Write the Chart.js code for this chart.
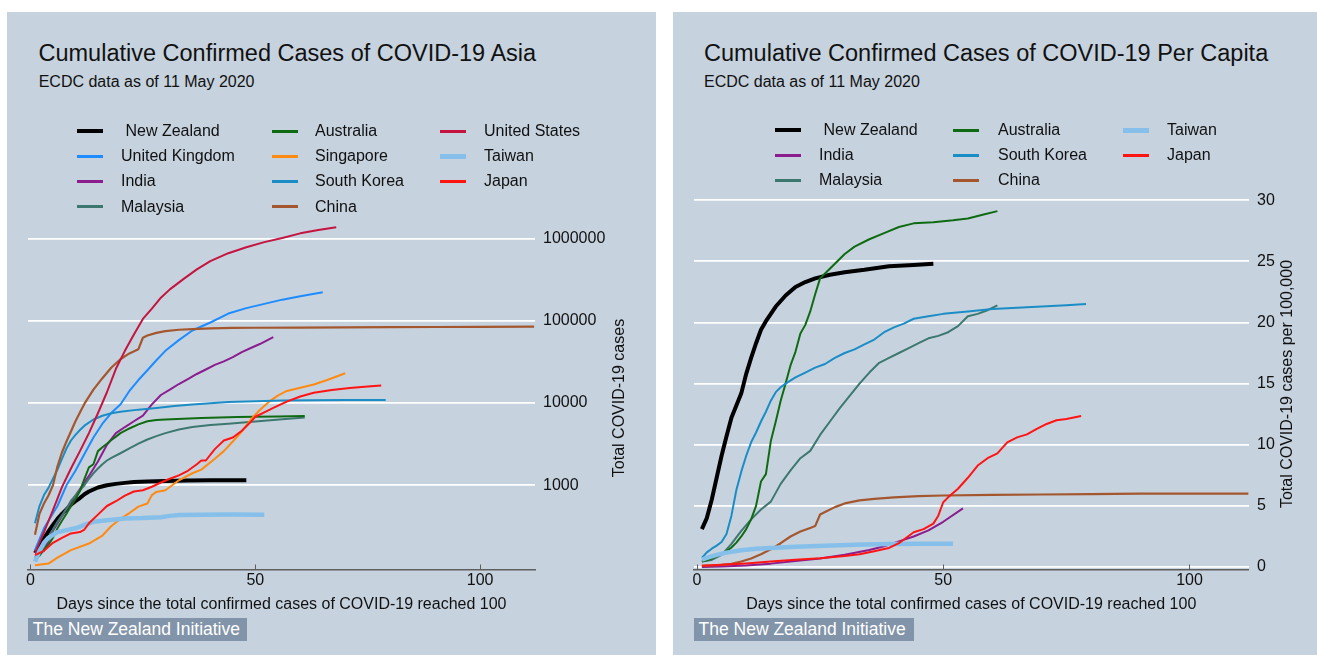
<!DOCTYPE html>
<html><head><meta charset="utf-8">
<script src="https://cdn.jsdelivr.net/npm/chart.js@4.4.1/dist/chart.umd.min.js"></script>
<style>
html,body{margin:0;padding:0;background:#fff;width:1317px;height:655px;overflow:hidden;font-family:"Liberation Sans",Arial,Helvetica,sans-serif;color:#111}
.panel{position:absolute;background:#c6d2de;overflow:hidden}
.title{position:absolute;font-size:23.5px;line-height:23.5px;white-space:nowrap}
.sub{position:absolute;font-size:16px;line-height:16px;white-space:nowrap}
.lgt{position:absolute;font-size:16px;line-height:20px;height:20px;white-space:pre}
.lgs{position:absolute;width:26px}
.foot{position:absolute;background:#8294a9;color:#fff;font-size:17.5px;line-height:22.7px;height:22.7px;padding-left:5px;box-sizing:border-box;white-space:nowrap}
canvas{position:absolute}
</style>
</head><body>
<div id="p1" class="panel" style="left:7px;top:12px;width:649px;height:643px">
  <div class="title" style="left:31.5px;top:29.7px">Cumulative Confirmed Cases of COVID-19 Asia</div>
  <div class="sub" style="left:31.7px;top:62px">ECDC data as of 11 May 2020</div>
  <canvas id="c1" width="649" height="403" style="left:0;top:200px;width:649px;height:403px"></canvas>
  <div class="foot" style="left:20.8px;top:606.3px;width:219px">The New Zealand Initiative</div>
</div>
<div id="p2" class="panel" style="left:673px;top:12px;width:644px;height:643px">
  <div class="title" style="left:31px;top:29.7px">Cumulative Confirmed Cases of COVID-19 Per Capita</div>
  <div class="sub" style="left:31px;top:62px">ECDC data as of 11 May 2020</div>
  <canvas id="c2" width="644" height="430" style="left:0;top:173px;width:644px;height:430px"></canvas>
  <div class="foot" style="left:20.5px;top:606.3px;width:220px">The New Zealand Initiative</div>
</div>
<script>
// ---------- Data: total confirmed cases (left chart) ----------
const casesDays_NZ = [1,2,3,4,5,6,7,8,9,10,11,12,13,14,15,17,19,21,23,26,30,35,40,44,48];
const cases_NZ     = [150,180,225,275,330,390,450,510,580,640,700,780,840,890,940,1000,1040,1070,1095,1110,1125,1140,1148,1150,1150];
const casesDays_UK = [1,3,6,8,10,12,14,16,18,20,22,24,26,28,30,33,36,40,44,48,52,56,60,65];
const cases_UK     = [163,300,560,1000,1500,2400,3800,5600,7600,9600,14000,19000,25000,33000,43000,58000,76000,95000,122000,142000,160000,180000,198000,222000];
const casesDays_IN = [1,3,5,7,9,11,13,15,17,19,21,23,25,27,29,31,33,35,37,39,41,43,45,47,49,51,54];
const cases_IN     = [135,160,280,420,620,900,1300,1950,3100,4300,5100,6000,7000,9600,12500,14500,17000,19500,22500,25500,29000,32000,36000,41500,46500,52000,63000];
const casesDays_MY = [1,2,3,4,5,6,7,8,9,10,11,12,13,14,15,16,17,18,20,22,24,26,28,30,33,36,40,44,48,52,56,61];
const cases_MY     = [130,150,180,230,290,360,430,520,650,750,870,1000,1200,1400,1600,1800,2000,2150,2450,2800,3200,3600,3950,4300,4750,5100,5400,5600,5850,6100,6350,6650];
const casesDays_AU = [1,2,3,4,5,6,7,8,9,10,11,12,13,14,15,16,17,18,19,20,22,24,26,28,30,34,38,42,46,50,55,61];
const cases_AU     = [130,140,165,190,230,300,370,450,560,680,850,1200,1650,1800,2600,2900,3200,3550,3900,4300,4900,5500,6000,6200,6300,6450,6550,6650,6750,6800,6850,6950];
const casesDays_SG = [1,4,6,9,13,16,18,20,22,24,26,27,28,30,33,36,38,41,43,45,47,49,51,53,55,57,60,63,66,70];
const cases_SG     = [107,112,132,163,196,245,320,390,460,550,600,760,830,870,1150,1400,1550,2100,2600,3400,4500,6300,8200,10300,12300,14000,15300,16800,19000,23000];
const casesDays_KR = [1,2,3,4,5,6,7,8,9,10,11,12,14,16,18,20,24,28,32,36,40,44,50,56,62,70,79];
const cases_KR     = [345,560,760,930,1200,1550,2100,2800,3500,4100,4700,5300,6300,7000,7500,7800,8300,8700,9200,9600,9950,10250,10500,10700,10800,10850,10900];
const casesDays_CN = [1,2,3,4,5,6,7,8,9,10,12,14,16,18,20,22,24,25,26,28,30,33,36,40,45,50,60,70,80,90,100,112];
const cases_CN     = [250,450,600,750,1000,1700,2500,3400,4500,6000,9800,14500,20000,27000,34000,40000,45000,62000,66000,71000,74500,77500,79000,80500,81500,82000,82500,83000,83300,83700,84200,84500];
const casesDays_US = [1,3,5,7,9,11,13,15,17,19,21,23,25,27,29,31,34,37,40,44,48,52,56,60,64,68];
const cases_US     = [150,270,500,950,1600,2600,4300,7500,13500,26000,43000,68000,105000,140000,190000,240000,320000,420000,530000,660000,780000,900000,1010000,1150000,1260000,1360000];
const casesDays_TW = [1,2,3,4,6,8,10,12,14,17,21,25,29,31,33,38,44,52];
const cases_TW     = [118,160,200,230,270,285,300,330,360,375,395,400,410,425,435,440,443,440];
const casesDays_JP = [1,3,5,7,9,11,12,13,15,17,19,21,23,25,27,29,31,33,35,37,38,39,41,43,45,47,49,50,52,54,57,60,63,67,71,75,78];
const cases_JP     = [142,160,200,230,260,270,290,345,440,560,640,750,840,870,960,1080,1200,1320,1500,1800,2000,2000,2750,3500,3800,4600,5900,6800,7700,8700,10400,12000,13300,14400,15200,15800,16300];

// ---------- Data: cases per 100,000 (right chart) ----------
const pcDays_NZ = [1,2,3,4,5,6,7,8,9,10,11,12,13,14,15,16,18,20,22,24,27,30,34,39,44,48];
const pc_NZ     = [3.1,4.0,5.5,7.3,9.1,10.7,12.2,13.2,14.2,15.8,17.1,18.3,19.4,20.1,20.7,21.3,22.2,22.9,23.3,23.6,23.9,24.1,24.3,24.6,24.7,24.8];
const pcDays_IN = [1,5,10,15,20,25,30,35,38,41,44,47,50,54];
const pc_IN     = [0.01,0.05,0.12,0.28,0.5,0.7,1.0,1.4,1.7,2.1,2.5,3.0,3.7,4.8];
const pcDays_MY = [1,3,5,7,9,11,13,15,17,19,21,23,25,27,29,31,33,35,37,39,41,43,45,47,49,51,53,55,57,59,61];
const pc_MY     = [0.46,0.58,1.0,1.9,2.95,3.9,4.7,5.35,6.8,7.9,8.9,9.5,10.8,11.9,13.0,14.0,15.0,15.9,16.7,17.1,17.5,17.9,18.3,18.7,18.9,19.2,19.7,20.5,20.7,21.0,21.4];
const pcDays_AU = [1,2,3,4,5,6,7,8,9,10,11,12,13,14,15,16,17,18,19,20,21,22,23,24,25,26,28,30,32,35,38,41,44,48,52,55,58,61];
const pc_AU     = [0.46,0.55,0.7,0.87,1.05,1.3,1.6,2.0,2.5,3.1,3.9,5.0,7.0,7.6,10.3,11.9,13.6,15.0,16.5,17.6,19.1,19.8,20.9,22.3,23.6,24.0,24.8,25.6,26.2,26.8,27.3,27.8,28.1,28.2,28.35,28.5,28.8,29.1];
const pcDays_KR = [1,2,3,4,5,6,7,8,9,10,11,12,13,14,15,16,17,18,20,22,24,26,28,30,32,34,36,38,40,42,44,47,50,55,60,65,70,75,79];
const pc_KR     = [0.74,1.2,1.5,1.75,2.05,2.7,4.2,6.3,7.8,9.1,10.2,11.0,11.9,12.7,13.6,14.3,14.7,15.0,15.5,15.9,16.3,16.6,17.1,17.5,17.8,18.2,18.6,19.2,19.6,19.9,20.3,20.5,20.7,20.9,21.1,21.2,21.3,21.4,21.5];
const pcDays_CN = [1,3,5,7,9,11,13,15,17,19,21,23,24,25,26,28,30,33,36,40,45,50,60,70,80,90,100,112];
const pc_CN     = [0.1,0.13,0.18,0.27,0.45,0.7,1.05,1.45,1.95,2.5,2.9,3.2,3.35,4.3,4.5,4.9,5.2,5.45,5.57,5.7,5.8,5.85,5.9,5.93,5.96,6.0,6.0,6.0];
const pcDays_TW = [1,2,4,6,9,12,16,20,26,32,39,45,52];
const pc_TW     = [0.6,0.75,1.0,1.18,1.37,1.5,1.58,1.66,1.75,1.83,1.88,1.9,1.9];
const pcDays_JP = [1,5,10,15,20,25,30,33,36,38,39,41,44,46,48,49,50,51,53,55,57,59,61,63,65,67,69,71,73,75,78];
const pc_JP     = [0.1,0.18,0.3,0.45,0.6,0.72,0.9,1.05,1.3,1.48,1.56,1.95,2.85,3.1,3.55,4.2,5.3,5.7,6.4,7.3,8.3,8.9,9.3,10.2,10.6,10.85,11.3,11.7,12.0,12.1,12.35];

// ---------- Tick labels ----------
const xTicks = [0, 50, 100];
const yTicksLeft = [1000, 10000, 100000, 1000000];
const yTicksRight = [0, 5, 10, 15, 20, 25, 30];

// ---------- Styles ----------
const COL = {
  nz:'#000000', uk:'#1e8cff', in:'#8b1d8e', my:'#3d7870', au:'#0f6b12', sg:'#ff8a12',
  kr:'#1b8dc6', cn:'#a4572f', us:'#c4143f', tw:'#86c0ea', jp:'#ff1414'
};
const FONT = '"Liberation Sans", Arial, Helvetica, sans-serif';
const TXT = '#111111';

const leftSeries = [
  {name:' New Zealand', d:casesDays_NZ, v:cases_NZ, c:COL.nz, w:4, lw:4.3},
  {name:'United Kingdom', d:casesDays_UK, v:cases_UK, c:COL.uk, w:2, lw:3},
  {name:'India', d:casesDays_IN, v:cases_IN, c:COL.in, w:2, lw:3},
  {name:'Malaysia', d:casesDays_MY, v:cases_MY, c:COL.my, w:2, lw:3},
  {name:'Australia', d:casesDays_AU, v:cases_AU, c:COL.au, w:2, lw:3},
  {name:'Singapore', d:casesDays_SG, v:cases_SG, c:COL.sg, w:2, lw:3},
  {name:'South Korea', d:casesDays_KR, v:cases_KR, c:COL.kr, w:2, lw:3},
  {name:'China', d:casesDays_CN, v:cases_CN, c:COL.cn, w:2.2, lw:3},
  {name:'United States', d:casesDays_US, v:cases_US, c:COL.us, w:2, lw:3},
  {name:'Taiwan', d:casesDays_TW, v:cases_TW, c:COL.tw, w:4.5, lw:5},
  {name:'Japan', d:casesDays_JP, v:cases_JP, c:COL.jp, w:2, lw:3}
];
const rightSeries = [
  {name:' New Zealand', d:pcDays_NZ, v:pc_NZ, c:COL.nz, w:4, lw:4.3},
  {name:'India', d:pcDays_IN, v:pc_IN, c:COL.in, w:2, lw:3},
  {name:'Malaysia', d:pcDays_MY, v:pc_MY, c:COL.my, w:2, lw:3},
  {name:'Australia', d:pcDays_AU, v:pc_AU, c:COL.au, w:2, lw:3},
  {name:'South Korea', d:pcDays_KR, v:pc_KR, c:COL.kr, w:2, lw:3},
  {name:'China', d:pcDays_CN, v:pc_CN, c:COL.cn, w:2.2, lw:3},
  {name:'Taiwan', d:pcDays_TW, v:pc_TW, c:COL.tw, w:4.5, lw:5},
  {name:'Japan', d:pcDays_JP, v:pc_JP, c:COL.jp, w:2, lw:3}
];

// legend layout (panel-relative)
function buildLegend(panelId, series, rows, sampleX, textX, rowY){
  const p = document.getElementById(panelId);
  series.forEach((s,i)=>{
    const col = Math.floor(i/rows), row = i%rows;
    const sw = document.createElement('div');
    sw.className='lgs';
    sw.style.left = sampleX[col]+'px';
    sw.style.top = (rowY[row]-s.lw/2)+'px';
    sw.style.height = s.lw+'px';
    sw.style.background = s.c;
    p.appendChild(sw);
    const t = document.createElement('div');
    t.className='lgt';
    t.style.left = textX[col]+'px';
    t.style.top = (rowY[row]-10)+'px';
    t.textContent = s.name;
    p.appendChild(t);
  });
}
buildLegend('p1', leftSeries, 4, [70,265,433], [114,308,477], [119,144,169,194.7]);
buildLegend('p2', rightSeries, 3, [102,280,450], [146,325,494], [118,143,168]);

const yTitlePlugin = {
  id:'ytitle',
  afterDraw(chart, args, o){
    const ctx = chart.ctx;
    ctx.save();
    ctx.font = '16px ' + FONT;
    ctx.fillStyle = TXT;
    ctx.textAlign = 'center';
    ctx.textBaseline = 'middle';
    ctx.translate(o.x, o.y);
    ctx.rotate(-Math.PI/2);
    ctx.fillText(o.text, 0, 0);
    ctx.restore();
  }
};
const tickMarkPlugin = {
  id:'tickmarks',
  afterDraw(chart){
    const ctx = chart.ctx, xs = chart.scales.x, b = chart.chartArea.bottom;
    ctx.save();
    ctx.strokeStyle = '#5e5e5e';
    ctx.lineWidth = 1;
    xTicks.forEach(v=>{
      const px = Math.round(xs.getPixelForValue(v))+0.5;
      ctx.beginPath(); ctx.moveTo(px, b); ctx.lineTo(px, b-5); ctx.stroke();
    });
    ctx.restore();
  }
};

function makeDatasets(series){
  return series.map((s,i)=>({
    label: s.name.trim(),
    data: s.d.map((d,k)=>({x:d, y:s.v[k]})),
    borderColor: s.c,
    backgroundColor: s.c,
    borderWidth: s.w,
    pointRadius: 0,
    tension: 0,
    fill: false,
    borderJoinStyle: 'round',
    borderCapStyle: 'butt',
    order: -i
  }));
}

function xScale(min, max){
  return {
    type:'linear', min:min, max:max,
    afterBuildTicks(sc){ sc.ticks = xTicks.map(v=>({value:v})); },
    afterFit(sc){ sc.height = 45.5; sc.paddingLeft = 0; sc.paddingRight = 0; },
    grid:{display:true, drawOnChartArea:false, drawTicks:false},
    border:{display:true, color:'#5e5e5e', width:1.6},
    ticks:{font:{family:FONT, size:16}, color:TXT, padding:1, maxRotation:0, autoSkip:false},
    title:{display:true, text:'Days since the total confirmed cases of COVID-19 reached 100',
           font:{family:FONT, size:16}, color:TXT, padding:{top:0, bottom:1}}
  };
}

Chart.defaults.font.family = FONT;

new Chart(document.getElementById('c1'), {
  type:'line',
  data:{datasets: makeDatasets(leftSeries)},
  options:{
    responsive:false, animation:false, events:[],
    layout:{padding:{left:21, top:10, right:0, bottom:0}},
    plugins:{legend:{display:false}, tooltip:{enabled:false},
      ytitle:{text:'Total COVID-19 cases', x:613, y:186}},
    scales:{
      x: xScale(-0.55, 112.2),
      y:{
        type:'logarithmic', position:'right', min:94.8, max:1580000,
        afterBuildTicks(sc){ sc.ticks = yTicksLeft.map(v=>({value:v})); },
        afterFit(sc){ sc.width = 121; sc.paddingTop = 0; sc.paddingBottom = 0; },
        grid:{color:'#ffffff', lineWidth:1.7, drawTicks:false},
        border:{display:false},
        ticks:{font:{family:FONT, size:16}, color:TXT, padding:8, callback:(v)=>String(v)}
      }
    }
  },
  plugins:[yTitlePlugin, tickMarkPlugin]
});

new Chart(document.getElementById('c2'), {
  type:'line',
  data:{datasets: makeDatasets(rightSeries)},
  options:{
    responsive:false, animation:false, events:[],
    layout:{padding:{left:21, top:9, right:0, bottom:0}},
    plugins:{legend:{display:false}, tooltip:{enabled:false},
      ytitle:{text:'Total COVID-19 cases per 100,000', x:615, y:199}},
    scales:{
      x: xScale(-0.6, 112.0),
      y:{
        type:'linear', position:'right', min:-0.2, max:30.5,
        afterBuildTicks(sc){ sc.ticks = yTicksRight.map(v=>({value:v})); },
        afterFit(sc){ sc.width = 68.4; sc.paddingTop = 0; sc.paddingBottom = 0; },
        grid:{color:'#ffffff', lineWidth:1.7, drawTicks:false},
        border:{display:false},
        ticks:{font:{family:FONT, size:16}, color:TXT, padding:8.5, callback:(v)=>String(v)}
      }
    }
  },
  plugins:[yTitlePlugin, tickMarkPlugin]
});
</script>
</body></html>
